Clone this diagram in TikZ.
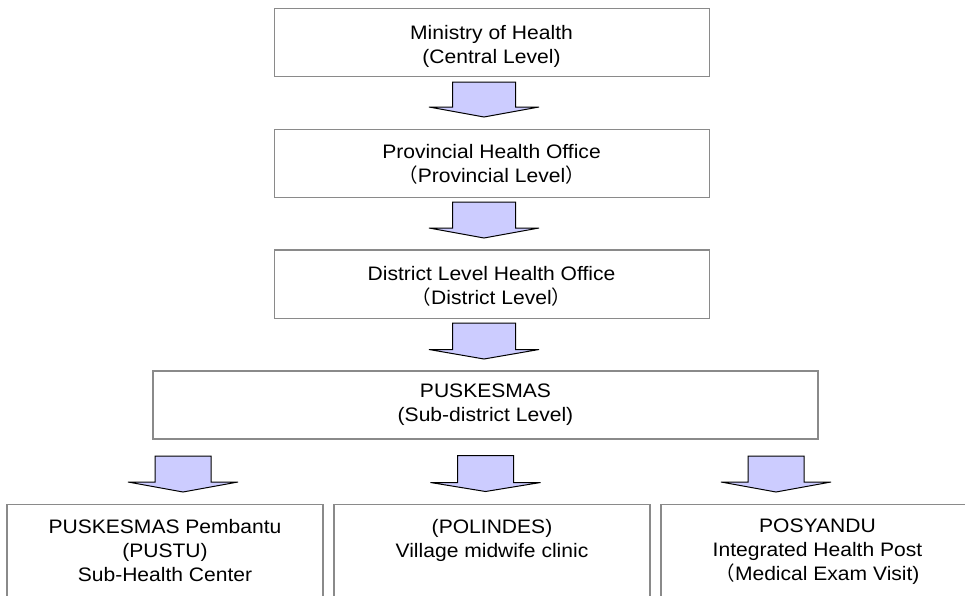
\documentclass[tikz,border=0pt]{standalone}
\usepackage{fontspec}
\setmainfont{Liberation Sans}[FakeStretch=1.08]
\newfontfamily\cjkfont{Noto Sans CJK JP}
% full-width parentheses
\newcommand{\fwlp}{{\cjkfont （}}
\newcommand{\fwrp}{{\cjkfont ）}}

\definecolor{boxgray}{HTML}{8A8A8A}
\definecolor{arrowfill}{HTML}{CCCCFF}

\tikzset{
  box/.style={draw=boxgray, line width=1.4pt, fill=white, inner sep=0pt, rectangle},
  boxtext/.style={inner sep=0pt, align=center, anchor=north,
                  font=\fontsize{19.5}{24}\selectfont},
  flow/.style={draw=black, line width=1pt, fill=arrowfill, line join=miter},
  % block arrow pointing down: shaft half-width / shaft length / head depth
  pics/downarrow/.style args={#1/#2/#3}{code={
    \draw[flow] (-#1,0) -- (#1,0) -- (#1,#2) -- (55,#2) -- (0,#2+#3)
                -- (-55,#2) -- (-#1,#2) -- cycle;
  }}
}
% first line of a label starts at a fixed cap top
\newcommand{\firstline}{\rule{0pt}{14pt}}

\begin{document}
\begin{tikzpicture}[x=1pt,y=-1pt]
\useasboundingbox (0,0) rectangle (965,595);
\clip (0,0) rectangle (965,595);

% ---- boxes ----
\node[box, minimum width=435pt, minimum height=68.4pt] (moh)  at (491.7,42.5)  {};
\node[box, minimum width=435pt, minimum height=68.4pt] (pho)  at (491.7,163.5) {};
\node[box, minimum width=435pt, minimum height=68.3pt] (dho)  at (491.7,284.2) {};
\node[box, minimum width=665pt, minimum height=68pt]   (pusk) at (485.5,405)   {};
\node[box, minimum width=316pt, minimum height=130pt, anchor=north] (pustu) at (165,504) {};
\node[box, minimum width=316pt, minimum height=130pt, anchor=north] (polin) at (492,504) {};
\node[box, minimum width=316pt, minimum height=130pt, anchor=north] (posy)  at (819,504) {};

% ---- labels ----
\node[boxtext] (mohT)  at (491.5,24.7)  {\firstline Ministry of Health\\(Central Level)};
\node[boxtext] (phoT)  at (491.5,144.3) {\firstline Provincial Health Office\\\fwlp Provincial Level\fwrp};
\node[boxtext] (dhoT)  at (491.5,266)   {\firstline District Level Health Office\\\fwlp District Level\fwrp};
\node[boxtext] (puskT) at (485.5,383.7) {\firstline PUSKESMAS\\(Sub-district Level)};
\node[boxtext] (pustuT) at (165,518.7)  {\firstline PUSKESMAS Pembantu\\(PUSTU)\\Sub-Health Center};
\node[boxtext] (polinT) at (492,518.7)  {\firstline (POLINDES)\\Village midwife clinic};
\node[boxtext] (posyT)  at (817.5,518.7){\firstline POSYANDU\\Integrated Health Post\\\fwlp Medical Exam Visit)};

% ---- block arrows between levels ----
\coordinate (a1) at (484,82);
\coordinate (a2) at (484,202);
\coordinate (a3) at (484,323);
\coordinate (b1) at (183,456);
\coordinate (b2) at (485.5,455.5);
\coordinate (b3) at (776,456);
\pic at (a1) {downarrow=31.5/25/10};
\pic at (a2) {downarrow=31.5/26/10};
\pic at (a3) {downarrow=31.5/26.5/9.5};
\pic at (b1) {downarrow=28/26/10};
\pic at (b2) {downarrow=28/27/9};
\pic at (b3) {downarrow=28/26/10};
\end{tikzpicture}
\end{document}
